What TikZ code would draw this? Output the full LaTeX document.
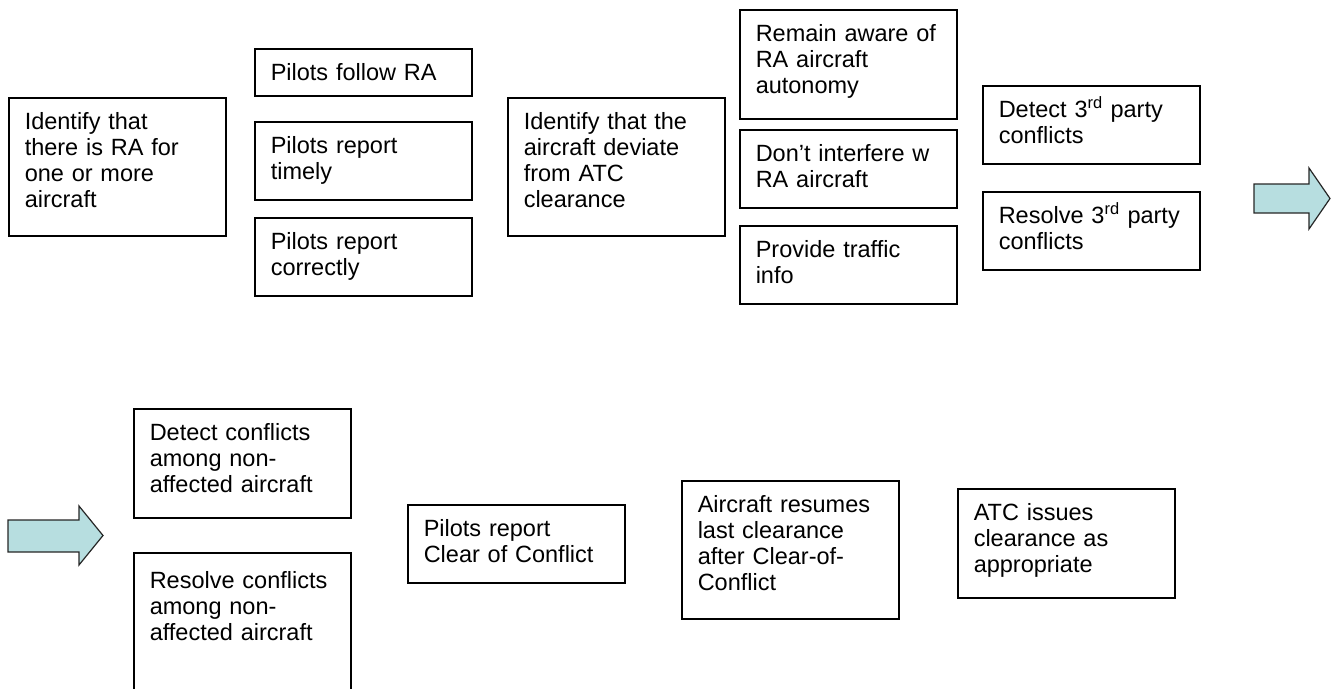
\documentclass[tikz,border=0pt]{standalone}
\usepackage{fontspec}
\setmainfont{Liberation Sans}
\definecolor{arrowfill}{RGB}{183,222,224}

\begin{document}
\begin{tikzpicture}[
  x=1pt, y=-1pt,
  font=\fontsize{23.5}{26}\selectfont,
  task/.style={rectangle, draw=black, line width=1.5pt, anchor=north west, minimum width=217pt, text width=185pt, align=left, inner xsep=16pt, inner ysep=15pt, text height=17pt, text depth=0pt},
  two lines/.style={text depth=31pt},
  three lines/.style={text depth=62pt},
  four lines/.style={text depth=91pt},
  flow/.style={draw=black!85, line width=1.2pt, fill=arrowfill, line join=miter}
]
\useasboundingbox (0,0) rectangle (1338,688);
\clip (0,0) rectangle (1338,688);

% upper row
\node[task, four lines] (identifyRA) at (8,97) {Identify that\\there is RA for\\one or more\\aircraft};

\node[task] (follow) at (254,48) {Pilots follow RA};
\node[task, two lines] (timely) at (254,121) {Pilots report\\timely};
\node[task, two lines] (correctly) at (254,217) {Pilots report\\correctly};

\node[task, four lines] (deviate) at (507,97) {Identify that the\\aircraft deviate\\from ATC\\clearance};

\node[task, three lines] (aware) at (739,9) {Remain aware of\\RA aircraft\\autonomy};
\node[task, two lines] (interfere) at (739,129) {Don’t interfere w\\RA aircraft};
\node[task, two lines] (traffic) at (739,225) {Provide traffic\\info};

\node[task, two lines] (detectThird) at (982,85) {Detect 3\textsuperscript{rd} party\\conflicts};
\node[task, two lines] (resolveThird) at (982,191) {Resolve 3\textsuperscript{rd} party\\conflicts};

\draw[flow] (1254,184) -- (1309,184) -- (1309,168) -- (1330,198.5) -- (1309,229) -- (1309,213) -- (1254,213) -- cycle;

% lower row
\draw[flow] (8,520) -- (79,520) -- (79,506) -- (103,535.5) -- (79,565) -- (79,552) -- (8,552) -- cycle;

\node[task, three lines] (detectOthers) at (133,408) {Detect conflicts\\among non-\\affected aircraft};
\node[task, inner ysep=19pt, text depth=150pt] (resolveOthers) at (133,552) {Resolve conflicts\\among non-\\affected aircraft};

\node[task, two lines] (clearConflict) at (407,504) {Pilots report\\Clear of Conflict};

\node[task, four lines] (resumes) at (681,480) {Aircraft resumes\\last clearance\\after Clear-of-\\Conflict};

\node[task, three lines] (atcIssues) at (957,488) {ATC issues\\clearance as\\appropriate};

\end{tikzpicture}
\end{document}
